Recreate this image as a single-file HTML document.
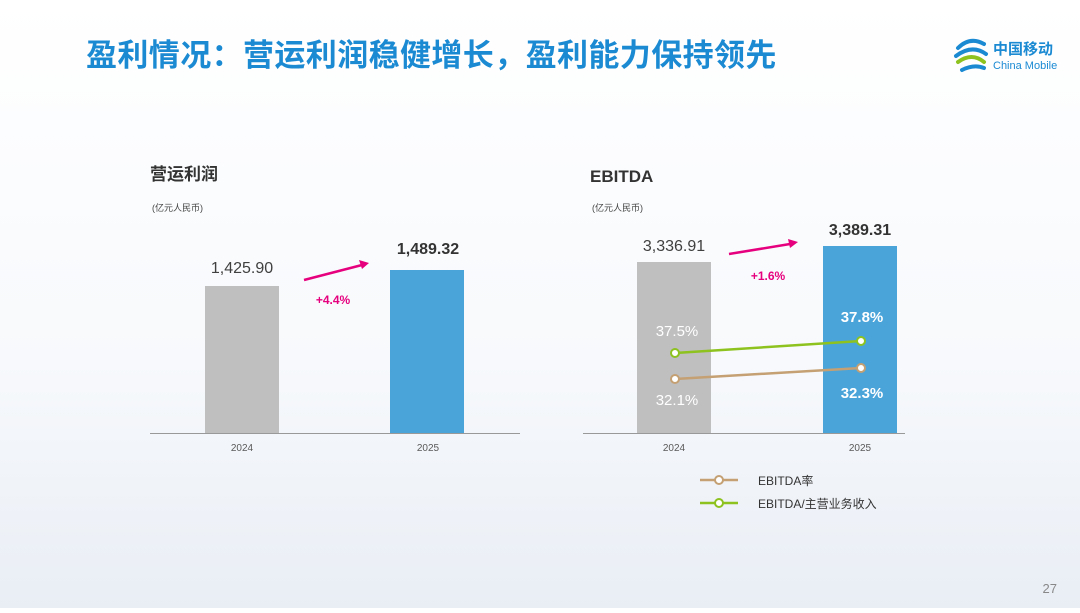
<!DOCTYPE html>
<html><head><meta charset="utf-8"><style>
body{margin:0;width:1080px;height:608px;overflow:hidden;background:linear-gradient(180deg,#fff 0%,#f7f9fc 60%,#e9eef5 100%);font-family:"Liberation Sans","Noto Sans CJK SC",sans-serif}
</style></head><body>
<svg width="1080" height="608" xmlns="http://www.w3.org/2000/svg" style="font-family:'Liberation Sans','Noto Sans CJK SC',sans-serif">
<text x="86" y="66" font-size="31" letter-spacing="0.4" font-weight="bold" fill="#1b8ad3">盈利情况：营运利润稳健增长，盈利能力保持领先</text>
<g fill="none" stroke-width="4" stroke-linecap="round">
<path d="M958 48 Q970 36 984 44" stroke="#1b8ad3"/><path d="M956 56 Q972 44 986 54" stroke="#1b8ad3"/>
<path d="M958 62 Q972 52 984 62" stroke="#8dc21f"/><path d="M962 70 Q974 64 984 68" stroke="#1b8ad3"/>
</g>
<text x="993" y="54" font-size="15" font-weight="bold" fill="#1b8ad3">中国移动</text>
<text x="993" y="69" font-size="11" fill="#1b8ad3">China Mobile</text>

<text x="150" y="180" font-size="17" font-weight="bold" fill="#333">营运利润</text>
<text x="152" y="211" font-size="9" fill="#444">(亿元人民币)</text>
<rect x="205" y="286" width="74" height="147" fill="#bfbfbf"/>
<rect x="390" y="270" width="74" height="163" fill="#4aa3d9"/>
<line x1="150" y1="433.5" x2="520" y2="433.5" stroke="#999"/>
<text x="242" y="273" font-size="16" fill="#404040" text-anchor="middle">1,425.90</text>
<text x="428" y="254" font-size="16" font-weight="bold" fill="#333" text-anchor="middle">1,489.32</text>
<line x1="304" y1="280" x2="362" y2="265" stroke="#e6007e" stroke-width="2.5"/>
<polygon points="369,263 359,260 362,269" fill="#e6007e"/>
<text x="333" y="304" font-size="12" font-weight="bold" fill="#e6007e" text-anchor="middle">+4.4%</text>
<text x="242" y="451" font-size="10" fill="#595959" text-anchor="middle">2024</text>
<text x="428" y="451" font-size="10" fill="#595959" text-anchor="middle">2025</text>

<text x="590" y="182" font-size="17" font-weight="bold" fill="#333">EBITDA</text>
<text x="592" y="211" font-size="9" fill="#444">(亿元人民币)</text>
<rect x="637" y="262" width="74" height="171" fill="#bfbfbf"/>
<rect x="823" y="246" width="74" height="187" fill="#4aa3d9"/>
<line x1="583" y1="433.5" x2="905" y2="433.5" stroke="#999"/>
<text x="674" y="251" font-size="16" fill="#404040" text-anchor="middle">3,336.91</text>
<text x="860" y="235" font-size="16" font-weight="bold" fill="#333" text-anchor="middle">3,389.31</text>
<line x1="729" y1="254" x2="790" y2="244" stroke="#e6007e" stroke-width="2.5"/>
<polygon points="798,242 788,239 790,248" fill="#e6007e"/>
<text x="768" y="280" font-size="12" font-weight="bold" fill="#e6007e" text-anchor="middle">+1.6%</text>
<line x1="675" y1="353" x2="861" y2="341" stroke="#8dc21f" stroke-width="2.5"/>
<line x1="675" y1="379" x2="861" y2="368" stroke="#c4a073" stroke-width="2.5"/>
<g stroke-width="2" fill="#fff">
<circle cx="675" cy="353" r="4" stroke="#8dc21f"/><circle cx="861" cy="341" r="4" stroke="#8dc21f"/>
<circle cx="675" cy="379" r="4" stroke="#c4a073"/><circle cx="861" cy="368" r="4" stroke="#c4a073"/>
</g>
<text x="677" y="336" font-size="15" fill="#fff" text-anchor="middle">37.5%</text>
<text x="677" y="405" font-size="15" fill="#fff" text-anchor="middle">32.1%</text>
<text x="862" y="322" font-size="15" font-weight="bold" fill="#fff" text-anchor="middle">37.8%</text>
<text x="862" y="398" font-size="15" font-weight="bold" fill="#fff" text-anchor="middle">32.3%</text>
<text x="674" y="451" font-size="10" fill="#595959" text-anchor="middle">2024</text>
<text x="860" y="451" font-size="10" fill="#595959" text-anchor="middle">2025</text>

<line x1="700" y1="480" x2="738" y2="480" stroke="#c4a073" stroke-width="2.5"/>
<circle cx="719" cy="480" r="4" fill="#fff" stroke="#c4a073" stroke-width="2"/>
<text x="758" y="485" font-size="12" fill="#333">EBITDA率</text>
<line x1="700" y1="503" x2="738" y2="503" stroke="#8dc21f" stroke-width="2.5"/>
<circle cx="719" cy="503" r="4" fill="#fff" stroke="#8dc21f" stroke-width="2"/>
<text x="758" y="508" font-size="12" fill="#333">EBITDA/主营业务收入</text>

<text x="1057" y="593" font-size="13" fill="#888" text-anchor="end">27</text>
</svg>
</body></html>
